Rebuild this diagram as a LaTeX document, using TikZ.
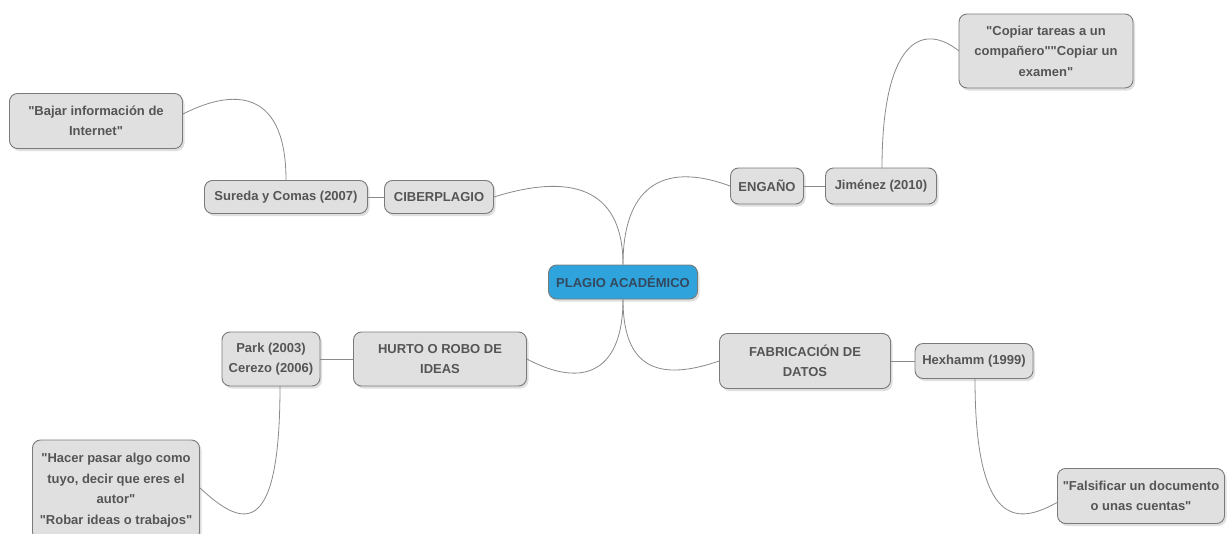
\documentclass[tikz,border=0pt]{standalone}
\usepackage{fontspec}
\setmainfont{Liberation Sans}
\usetikzlibrary{shadows}
\newcommand{\dq}{\XeTeXglyph\XeTeXcharglyph"22\relax}
\definecolor{boxfill}{HTML}{E0E0E0}
\definecolor{boxline}{HTML}{7A7A7A}
\definecolor{txt}{HTML}{555555}
\definecolor{blu}{HTML}{2EA3DC}
\definecolor{blutxt}{HTML}{34495E}
\definecolor{edge}{HTML}{8A8A8A}
\begin{document}
\begin{tikzpicture}[x=1pt,y=-1pt,
  box/.style={draw=boxline, line width=0.9pt, fill=boxfill, rounded corners=8pt,
    text=txt, font=\fontsize{13}{20.5}\selectfont\bfseries, align=center,
    inner sep=0pt, drop shadow={opacity=0.25, shadow xshift=2pt, shadow yshift=-2.5pt}},
  root/.style={box, fill=blu, text=blutxt, draw=boxline},
  conn/.style={draw=edge, line width=0.8pt}]
\useasboundingbox (0,0) rectangle (1228,533);
\node[root, minimum width=149pt, minimum height=34pt] (r) at (623,282) {PLAGIO ACADÉMICO};
\node[box, minimum width=109pt, minimum height=33pt] (ci) at (439,197) {CIBERPLAGIO};
\node[box, minimum width=163pt, minimum height=33pt] (su) at (286,197) {Sureda y Comas (2007)};
\node[box, minimum width=173pt, minimum height=55pt] (ba) at (96,121) {\dq Bajar información de\\Internet\dq};
\node[box, minimum width=73pt, minimum height=36pt] (en) at (767,186) {ENGAÑO};
\node[box, minimum width=111pt, minimum height=36pt] (ji) at (881,186) {Jiménez (2010)};
\node[box, minimum width=174pt, minimum height=74pt] (co) at (1046,51) {\dq Copiar tareas a un\\compañero\dq\dq Copiar un\\examen\dq};
\node[box, minimum width=173pt, minimum height=54pt] (hu) at (440,359) {HURTO O ROBO DE\\IDEAS};
\node[box, minimum width=98pt, minimum height=54pt] (pa) at (271,359) {Park (2003)\\Cerezo (2006)};
\node[box, minimum width=167pt, minimum height=100pt] (ha) at (116,490) {\dq Hacer pasar algo como\\tuyo, decir que eres el\\autor\dq\\\dq Robar ideas o trabajos\dq};
\node[box, minimum width=171pt, minimum height=55pt] (fa) at (805,361) {FABRICACIÓN DE\\DATOS};
\node[box, minimum width=118pt, minimum height=35pt] (he) at (974,361) {Hexhamm (1999)};
\node[box, minimum width=167pt, minimum height=55pt] (fs) at (1141,496) {\dq Falsificar un documento\\o unas cuentas\dq};

\draw[conn] (r.north) .. controls (623,195) and (580,170) .. (ci.east);
\draw[conn] (r.north) .. controls (623,190) and (660,160) .. (en.west);
\draw[conn] (r.south) .. controls (623,370) and (585,390) .. (hu.east);
\draw[conn] (r.south) .. controls (623,360) and (650,385) .. (fa.west);
\draw[conn] (ci.west) -- (su.east);
\draw[conn] (en.east) -- (ji.west);
\draw[conn] (hu.west) -- (pa.east);
\draw[conn] (fa.east) -- (he.west);
\coordinate (sut) at (286,180);
\coordinate (bae) at (183,114);
\draw[conn] (sut) .. controls (286,95) and (240,85) .. (bae);
\coordinate (jit) at (882,168);
\coordinate (coe) at (959,51);
\draw[conn] (jit) .. controls (882,45) and (920,20) .. (coe);
\coordinate (pab) at (280,386);
\coordinate (hae) at (200,488);
\draw[conn] (pab) .. controls (280,545) and (240,525) .. (hae);
\coordinate (heb) at (975,379);
\coordinate (fsw) at (1058,502);
\draw[conn] (heb) .. controls (975,540) and (1025,520) .. (fsw);
\end{tikzpicture}
\end{document}
